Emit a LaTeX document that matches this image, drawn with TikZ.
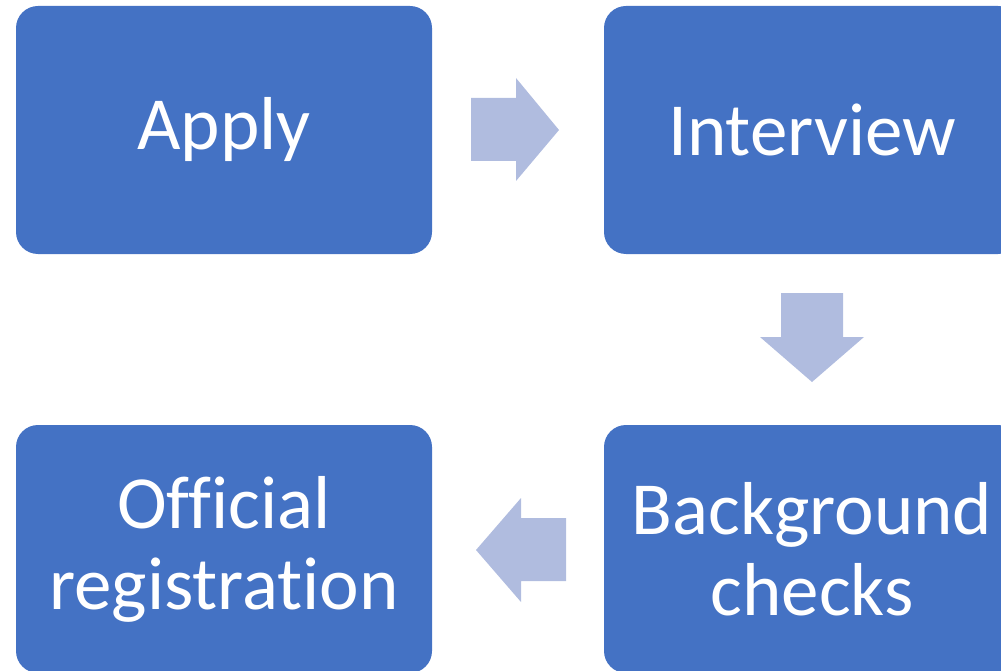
\documentclass[tikz,border=0pt]{standalone}
\usepackage{fontspec}
\setmainfont[Ligatures={NoCommon}]{Carlito}
\definecolor{boxblue}{HTML}{4472C4}
\definecolor{arrowblue}{HTML}{B0BCDF}
\begin{document}
\begin{tikzpicture}[x=1pt,y=-1pt,
  stepbox/.style={fill=boxblue,draw=none,rounded corners=22pt,minimum width=416pt,minimum height=248pt,
    text=white,align=center,font=\fontsize{75}{81}\selectfont,inner sep=0pt},
  blockarrow/.style={fill=arrowblue,draw=none}]
\useasboundingbox (0,0) rectangle (1001,671);
\clip (0,0) rectangle (1001,671);
\node[stepbox] (apply) at (224,130) {Apply};
\node[stepbox] (interview) at (812,130) {Interview};
\node[stepbox] (background) at (812,549) {Background\\checks};
\node[stepbox] (official) at (224,549) {Official\\registration};
% right arrow
\fill[blockarrow] (471,98) -- (516,98) -- (516,78) -- (559,130) -- (516,181) -- (516,161) -- (471,161) -- cycle;
% down arrow
\fill[blockarrow] (781,293) -- (843,293) -- (843,337) -- (864,337) -- (812,382) -- (760,337) -- (781,337) -- cycle;
% left arrow
\fill[blockarrow] (566,518) -- (521,518) -- (521,498) -- (476,550) -- (521,602) -- (521,581) -- (566,581) -- cycle;
\end{tikzpicture}
\end{document}
